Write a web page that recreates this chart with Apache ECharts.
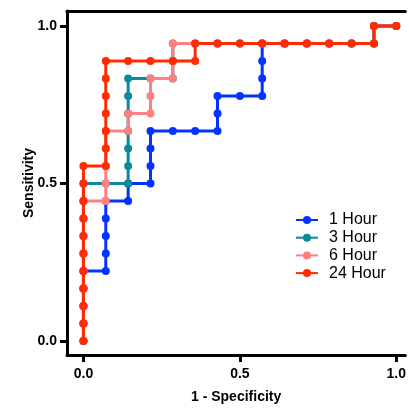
<!DOCTYPE html>
<html>
<head>
<meta charset="utf-8">
<script src="https://cdn.jsdelivr.net/npm/echarts@6/dist/echarts.min.js"></script>
<style>html,body{margin:0;padding:0;background:#fff}#c{width:409px;height:412px}</style>
</head>
<body>
<div id="c"></div>
<script>
const seriesNames = ['1 Hour', '3 Hour', '6 Hour', '24 Hour'];
const seriesColors = ['#0433ff', '#0a8a9c', '#ff8080', '#ff2a00'];
const xTicks = [0, 0.5, 1];
const yTicks = [0, 0.5, 1];

const hour1X = [0,0,0,0,0,0.0714,0.0714,0.0714,0.0714,0.0714,0.1429,0.1429,0.2143,0.2143,0.2143,0.2143,0.2857,0.3571,0.4286,0.4286,0.4286,0.5,0.5714,0.5714,0.5714,0.5714,0.6429,0.7143,0.7857,0.8571,0.9286,0.9286,1];
const hour1Y = [0,0.0556,0.1111,0.1667,0.2222,0.2222,0.2778,0.3333,0.3889,0.4444,0.4444,0.5,0.5,0.5556,0.6111,0.6667,0.6667,0.6667,0.6667,0.7222,0.7778,0.7778,0.7778,0.8333,0.8889,0.9444,0.9444,0.9444,0.9444,0.9444,0.9444,1,1];

const hour3X = [0,0,0,0,0,0,0,0,0,0,0.0714,0.1429,0.1429,0.1429,0.1429,0.1429,0.1429,0.1429,0.2143,0.2857,0.2857,0.2857,0.3571,0.4286,0.5,0.5714,0.6429,0.7143,0.7857,0.8571,0.9286,0.9286,1];
const hour3Y = [0,0.0556,0.1111,0.1667,0.2222,0.2778,0.3333,0.3889,0.4444,0.5,0.5,0.5,0.5556,0.6111,0.6667,0.7222,0.7778,0.8333,0.8333,0.8333,0.8889,0.9444,0.9444,0.9444,0.9444,0.9444,0.9444,0.9444,0.9444,0.9444,0.9444,1,1];

const hour6X = [0,0,0,0,0,0,0,0,0,0.0714,0.0714,0.0714,0.0714,0.0714,0.1429,0.1429,0.2143,0.2143,0.2143,0.2857,0.2857,0.2857,0.3571,0.4286,0.5,0.5714,0.6429,0.7143,0.7857,0.8571,0.9286,0.9286,1];
const hour6Y = [0,0.0556,0.1111,0.1667,0.2222,0.2778,0.3333,0.3889,0.4444,0.4444,0.5,0.5556,0.6111,0.6667,0.6667,0.7222,0.7222,0.7778,0.8333,0.8333,0.8889,0.9444,0.9444,0.9444,0.9444,0.9444,0.9444,0.9444,0.9444,0.9444,0.9444,1,1];

const hour24X = [0,0,0,0,0,0,0,0,0,0,0,0.0714,0.0714,0.0714,0.0714,0.0714,0.0714,0.0714,0.1429,0.2143,0.2857,0.3571,0.3571,0.4286,0.5,0.5714,0.6429,0.7143,0.7857,0.8571,0.9286,0.9286,1];
const hour24Y = [0,0.0556,0.1111,0.1667,0.2222,0.2778,0.3333,0.3889,0.4444,0.5,0.5556,0.5556,0.6111,0.6667,0.7222,0.7778,0.8333,0.8889,0.8889,0.8889,0.8889,0.8889,0.9444,0.9444,0.9444,0.9444,0.9444,0.9444,0.9444,0.9444,0.9444,1,1];

const xsAll = [hour1X, hour3X, hour6X, hour24X];
const ysAll = [hour1Y, hour3Y, hour6Y, hour24Y];

const font = '"Liberation Sans", Arial, Helvetica, sans-serif';
const chart = echarts.init(document.getElementById('c'), null, {renderer: 'canvas'});

const series = seriesNames.map((name, i) => ({
  name: name,
  type: 'line',
  data: xsAll[i].map((x, j) => [x, ysAll[i][j]]),
  color: seriesColors[i],
  symbol: 'circle',
  symbolSize: 8,
  showAllSymbol: true,
  lineStyle: {width: 3, color: seriesColors[i]},
  itemStyle: {color: seriesColors[i]},
  emphasis: {disabled: true},
  animation: false,
  z: 2 + i
}));

chart.setOption({
  animation: false,
  grid: {left: 67, right: 3, top: 11, bottom: 57, containLabel: false},
  legend: {
    orient: 'vertical',
    left: 290,
    top: 207,
    itemWidth: 22,
    itemHeight: 10,
    itemGap: 1.7,
    data: seriesNames,
    textStyle: {fontFamily: font, fontSize: 16, lineHeight: 16, color: '#000', padding: [0, 0, 0, 6]}
  },
  xAxis: [{
    type: 'value',
    min: -0.0526,
    max: 1.0287,
    position: 'bottom',
    name: '1 - Specificity',
    nameLocation: 'middle',
    nameGap: 35,
    nameMoveOverlap: false,
    nameTextStyle: {fontFamily: font, fontSize: 14, fontWeight: 'bold', color: '#000'},
    splitLine: {show: false},
    axisLine: {show: true, onZero: false, lineStyle: {color: '#000', width: 3}},
    axisTick: {show: true, inside: false, length: 7, customValues: xTicks, lineStyle: {color: '#000', width: 3}},
    axisLabel: {show: true, customValues: xTicks, margin: 12, fontFamily: font, fontSize: 14, fontWeight: 'bold', color: '#000',
      formatter: v => v.toFixed(1)}
  }, {
    type: 'value',
    min: -0.0526,
    max: 1.0287,
    position: 'top',
    splitLine: {show: false},
    axisLine: {show: true, onZero: false, lineStyle: {color: '#000', width: 3}},
    axisTick: {show: false},
    axisLabel: {show: false}
  }],
  yAxis: {
    type: 'value',
    min: -0.0444,
    max: 1.0476,
    name: 'Sensitivity',
    nameLocation: 'middle',
    nameGap: 31,
    nameMoveOverlap: false,
    nameTextStyle: {fontFamily: font, fontSize: 14, fontWeight: 'bold', color: '#000'},
    splitLine: {show: false},
    axisLine: {show: true, onZero: false, lineStyle: {color: '#000', width: 3}},
    axisTick: {show: true, inside: false, length: 7, customValues: yTicks, lineStyle: {color: '#000', width: 3}},
    axisLabel: {show: true, customValues: yTicks, margin: 10, fontFamily: font, fontSize: 14, fontWeight: 'bold', color: '#000',
      formatter: v => v.toFixed(1)}
  },
  series: series
});
</script>
</body>
</html>
